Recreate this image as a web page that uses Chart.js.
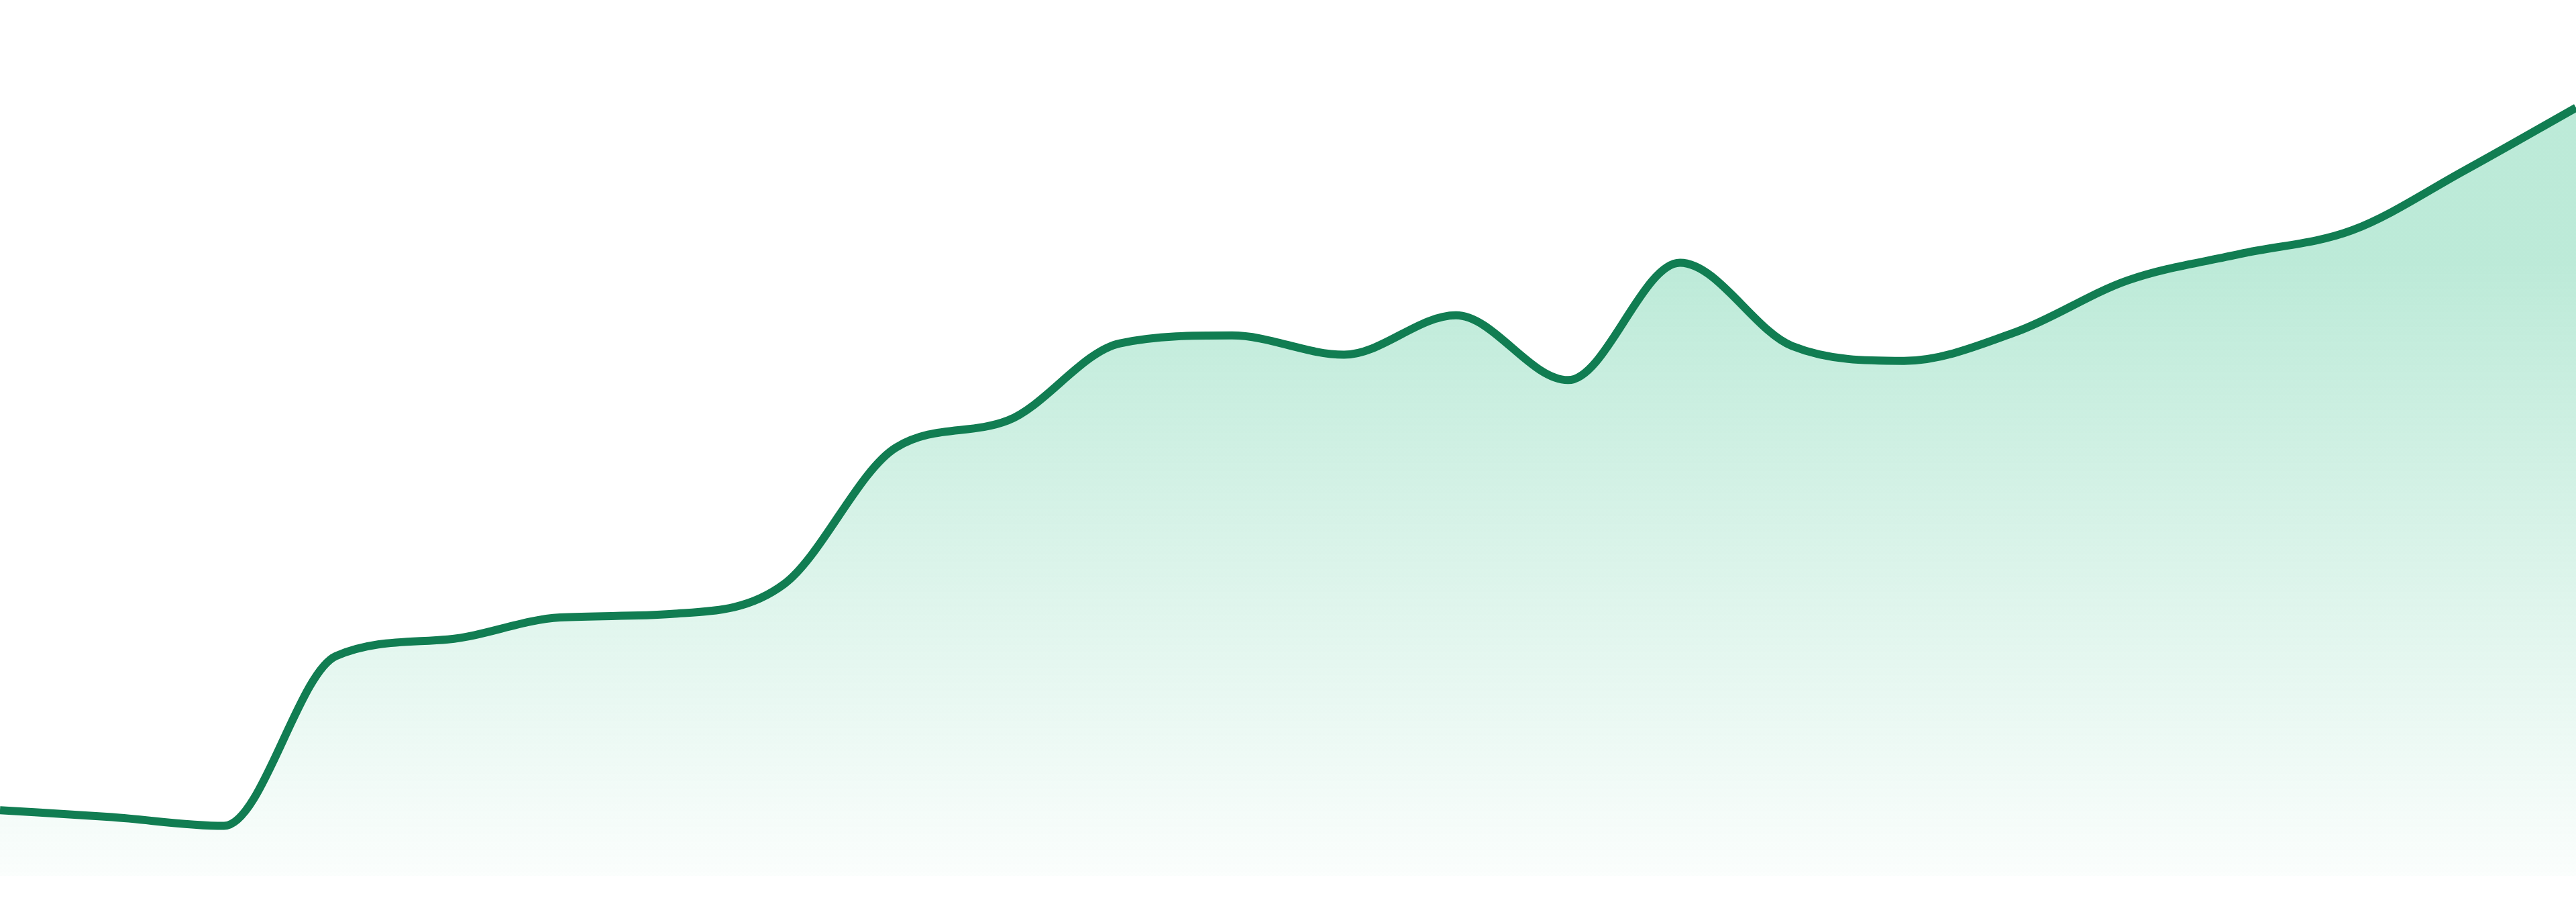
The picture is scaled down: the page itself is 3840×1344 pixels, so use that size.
<!DOCTYPE html>
<html>
<head>
<meta charset="utf-8">
<script src="https://cdn.jsdelivr.net/npm/chart.js@4.4.1/dist/chart.umd.min.js"></script>
<style>
  html, body { margin: 0; padding: 0; background: #ffffff; }
  #wrap { position: relative; width: 3840px; height: 1344px; }
</style>
</head>
<body>
<div id="wrap"><canvas id="c"></canvas></div>
<script>
const categories = ["1","2","3","4","5","6","7","8","9","10","11","12","13","14","15","16","17","18","19","20","21","22","23","24"];
const values = [7.5, 6.7, 5.7, 25.1, 27.0, 29.5, 29.9, 33.3, 48.9, 52.0, 60.8, 61.7, 59.5, 64.0, 56.6, 70.0, 60.5, 58.8, 62.1, 68.0, 71.0, 73.7, 80.5, 87.7];
const yMin = 0;
const yMax = 100;

const lineColor = "#117d52";

function fillGradient(context) {
  const chart = context.chart;
  const area = chart.chartArea;
  if (!area) return "rgba(60,194,141,0.2)";
  const start = area.top + (area.bottom - area.top) * 0.3;
  const g = chart.ctx.createLinearGradient(0, start, 0, area.bottom);
  g.addColorStop(0, "rgba(60,194,141,0.34)");
  g.addColorStop(1, "rgba(60,194,141,0.025)");
  return g;
}

new Chart(document.getElementById("c"), {
  type: "line",
  data: {
    labels: categories,
    datasets: [{
      data: values,
      borderColor: lineColor,
      borderWidth: 12,
      backgroundColor: fillGradient,
      fill: "start",
      pointRadius: 0,
      pointHoverRadius: 0,
      cubicInterpolationMode: "monotone"
    }]
  },
  options: {
    responsive: true,
    maintainAspectRatio: false,
    animation: false,
    devicePixelRatio: 1,
    layout: { padding: { left: 0, right: 0, top: 0, bottom: 39 } },
    plugins: { legend: { display: false }, tooltip: { enabled: false } },
    scales: {
      x: { display: false, offset: false },
      y: { display: false, min: yMin, max: yMax }
    }
  }
});
</script>
</body>
</html>
